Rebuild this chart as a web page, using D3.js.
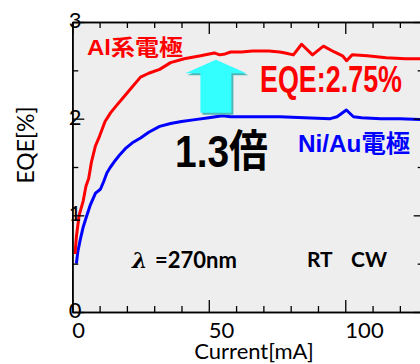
<!DOCTYPE html>
<html>
<head>
<meta charset="utf-8">
<script src="https://cdn.jsdelivr.net/npm/d3@7"></script>
<style>
  body { margin: 0; background: #fff; }
  svg { display: block; }
</style>
</head>
<body>
<div id="chart"></div>
<script>
// current [mA] and EQE [%]
var alCurrent = [1, 1.5, 2.5, 4, 5, 6, 7, 8.5, 10, 12, 14, 16, 19, 22, 25, 28, 32, 36, 41, 47, 52, 54, 56, 58, 62, 66, 72, 76, 78, 81, 84, 88, 92, 96, 99, 100.5, 102.5, 108, 115, 122, 128];
var alEqe = [0.6, 0.78, 1.0, 1.15, 1.3, 1.38, 1.55, 1.72, 1.82, 1.97, 2.06, 2.13, 2.23, 2.33, 2.43, 2.47, 2.51, 2.58, 2.62, 2.65, 2.68, 2.66, 2.67, 2.69, 2.69, 2.70, 2.70, 2.69, 2.68, 2.66, 2.77, 2.66, 2.75, 2.69, 2.65, 2.60, 2.66, 2.65, 2.63, 2.62, 2.62];
var niCurrent = [1.5, 2, 3, 4, 5, 6.5, 8.5, 10.3, 11.5, 12.7, 14, 15.8, 17.5, 19.4, 22, 25, 28, 32, 36, 40, 45, 50, 55, 58, 62, 70, 76, 85, 94.5, 97, 100.4, 103, 106, 113, 120, 128];
var niEqe = [0.5, 0.62, 0.76, 0.88, 0.97, 1.1, 1.23, 1.27, 1.35, 1.44, 1.50, 1.57, 1.63, 1.69, 1.75, 1.80, 1.86, 1.92, 1.95, 1.97, 1.99, 2.01, 2.03, 2.02, 2.02, 2.02, 2.02, 2.01, 2.00, 2.02, 2.09, 2.02, 2.01, 2.00, 2.00, 1.99];

var xMajor = [0, 50, 100];
var xMinor = [10, 20, 30, 40, 60, 70, 80, 90, 110, 120];
var yMajor = [0, 1, 2, 3];
var yMinor = [0.5, 1.5, 2.5];

var width = 420, height = 364;
var plotL = 72.3, plotT = 22, plotB = 312, plotR = 421.7;

var svg = d3.select("#chart").append("svg")
    .attr("width", width)
    .attr("height", height);

var x = d3.scaleLinear().domain([0, 128]).range([plotL, plotR]);
var y = d3.scaleLinear().domain([0, 3]).range([plotB, plotT]);
// the tick labels sit a bit off their ticks in the original
var xLab = d3.scaleLinear().domain([0, 100]).range([78, 364]);
var yLab = d3.scaleLinear().domain([0, 3]).range([309.5, 19.5]);

svg.append("rect")
    .attr("x", plotL).attr("y", plotT)
    .attr("width", plotR - plotL).attr("height", plotB - plotT)
    .attr("fill", "#eeeeee");

var line = d3.line()
    .x(function (d) { return x(d[0]); })
    .y(function (d) { return y(d[1]); });

svg.append("path")
    .datum(d3.zip(niCurrent, niEqe))
    .attr("fill", "none").attr("stroke", "#0000ff")
    .attr("stroke-width", 3).attr("stroke-linejoin", "round")
    .attr("d", line);

svg.append("path")
    .datum(d3.zip(alCurrent, alEqe))
    .attr("fill", "none").attr("stroke", "#ff0000")
    .attr("stroke-width", 3).attr("stroke-linejoin", "round")
    .attr("d", line);

// axes, ticks pointing inward
function ticks(axis, vals, size, tr) {
    var g = svg.append("g").attr("transform", tr)
        .call(axis.tickValues(vals).tickSize(-size).tickSizeOuter(0).tickFormat(""));
    g.selectAll("line").attr("stroke", "#000").attr("stroke-width", 1.3);
    g.select(".domain").attr("stroke", "#000").attr("stroke-width", 1.6);
    return g;
}
ticks(d3.axisBottom(x), xMajor, 12, "translate(0," + plotB + ")");
ticks(d3.axisBottom(x), xMinor, 6, "translate(0," + plotB + ")");
ticks(d3.axisTop(x), xMajor, 12, "translate(0," + plotT + ")");
ticks(d3.axisTop(x), xMinor, 6, "translate(0," + plotT + ")");
ticks(d3.axisLeft(y), yMajor, 12, "translate(" + plotL + ",0)");
ticks(d3.axisLeft(y), yMinor, 6, "translate(" + plotL + ",0)");
ticks(d3.axisRight(y), yMajor, 8, "translate(" + plotR + ",0)");
ticks(d3.axisRight(y), yMinor, 4, "translate(" + plotR + ",0)");

var xl = svg.append("g").attr("transform", "translate(0,322)")
    .call(d3.axisBottom(xLab).tickValues(xMajor).tickSize(0).tickPadding(0).tickFormat(d3.format("d")));
xl.select(".domain").remove();
xl.selectAll("text").attr("font-family", "Lato, 'Open Sans', sans-serif")
    .attr("font-size", 22).attr("fill", "#000");

var yl = svg.append("g").attr("transform", "translate(75,0)")
    .call(d3.axisLeft(yLab).tickValues(yMajor).tickSize(0).tickPadding(0).tickFormat(d3.format("d")));
yl.select(".domain").remove();
yl.selectAll("text").attr("font-family", "Lato, 'Open Sans', sans-serif")
    .attr("font-size", 22).attr("fill", "#000")
    .attr("x", 0).attr("text-anchor", "middle").attr("dy", "0.36em");

svg.append("text")
    .attr("x", 254).attr("y", 359)
    .attr("text-anchor", "middle")
    .attr("font-family", "Lato, 'Open Sans', sans-serif").attr("font-size", 22)
    .text("Current[mA]");

svg.append("text")
    .attr("transform", "translate(34,145) rotate(-90)")
    .attr("text-anchor", "middle")
    .attr("font-family", "Lato, 'Open Sans', sans-serif").attr("font-size", 23)
    .text("EQE[%]");

// up arrow from the Ni/Au level to the Al level
var ax = x(52.6), aTop = y(2.61), aBase = y(2.06), aNeck = aTop + 13.5;
var arrow = [[ax, aTop], [ax + 30.5, aNeck], [ax + 15.5, aNeck], [ax + 15.5, aBase],
             [ax - 15.5, aBase], [ax - 15.5, aNeck], [ax - 30.5, aNeck]];
svg.append("polygon")
    .attr("points", arrow.map(function (p) { return (p[0] + 2) + "," + (p[1] + 2); }).join(" "))
    .attr("fill", "#4fb7b7");
svg.append("polygon")
    .attr("points", arrow.map(function (p) { return p.join(","); }).join(" "))
    .attr("fill", "#33ffff");

var jp = "'Liberation Sans', Arial, 'Noto Sans CJK JP', sans-serif";
function label(txt, x0, y0, size, len, color) {
    return svg.append("text")
        .attr("x", x0).attr("y", y0)
        .attr("font-family", jp).attr("font-weight", "bold")
        .attr("font-size", size).attr("fill", color)
        .attr("textLength", len).attr("lengthAdjust", "spacingAndGlyphs")
        .text(txt);
}
label("Al系電極", 87, 55, 22, 96, "#ff0000");
label("EQE:2.75%", 260, 92, 36, 142, "#ff0000");
label("1.3倍", 175, 167, 44, 93, "#000");
label("Ni/Au電極", 298, 152, 24, 112, "#0000ff");

var lam = svg.append("text")
    .attr("x", 132).attr("y", 268)
    .attr("font-family", "Lato, 'Open Sans', sans-serif").attr("font-weight", "bold")
    .attr("font-size", 22).attr("fill", "#000");
lam.append("tspan").attr("font-style", "italic").attr("font-family", "'DejaVu Serif', serif").text("λ");
lam.append("tspan").attr("x", 155).text("=270nm");

svg.append("text").attr("x", 307).attr("y", 267)
    .attr("font-family", "Lato, sans-serif").attr("font-weight", "bold")
    .attr("font-size", 21).text("RT");
svg.append("text").attr("x", 351).attr("y", 267)
    .attr("font-family", "Lato, sans-serif").attr("font-weight", "bold")
    .attr("font-size", 21).text("CW");
</script>
</body>
</html>
